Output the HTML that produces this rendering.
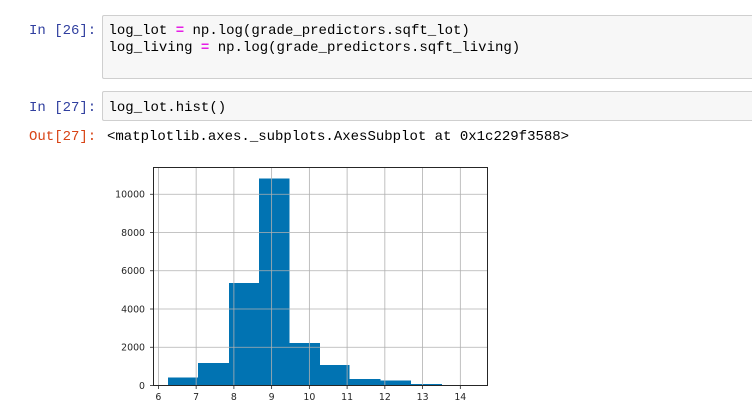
<!DOCTYPE html>
<html lang="en">
<head>
<meta charset="utf-8">
<title>Notebook histogram</title>
<style>
html,body{margin:0;padding:0;background:#fff;width:752px;height:413px;overflow:hidden}
#page{position:relative;width:752px;height:413px;background:#fff}
.cell{position:absolute;left:102px;width:650px;box-sizing:border-box;background:#f7f7f7;border:1px solid #cfcfcf;border-right:none;border-radius:2px 0 0 2px}
.t{position:absolute;font-family:"Liberation Mono",monospace;font-size:14px;line-height:17px;white-space:pre;color:#000;margin:0}
.in{color:#303f9f}
.out{color:#d84315}
.op{color:#e61ee6;font-weight:bold}
svg{position:absolute;left:0;top:0}
svg text{font-family:"DejaVu Sans",sans-serif;font-size:9.4px;fill:#262626}
</style>
</head>
<body>
<div id="page">
  <div class="t in" style="left:29px;top:23px">In [26]:</div>
  <div class="cell" style="top:15px;height:64px"></div>
  <div class="t" style="left:108.5px;top:23px">log_lot <span class="op">=</span> np.log(grade_predictors.sqft_lot)</div>
  <div class="t" style="left:108.5px;top:40px">log_living <span class="op">=</span> np.log(grade_predictors.sqft_living)</div>

  <div class="t in" style="left:29px;top:100px">In [27]:</div>
  <div class="cell" style="top:91px;height:30px"></div>
  <div class="t" style="left:108.5px;top:100px">log_lot.hist()</div>

  <div class="t out" style="left:29px;top:129px">Out[27]:</div>
  <div class="t" style="left:107px;top:129px">&lt;matplotlib.axes._subplots.AxesSubplot at 0x1c229f3588&gt;</div>

  <svg id="chart" width="752" height="413" viewBox="0 0 752 413"></svg>
</div>
<script>
const binEdges = [6.25, 7.05, 7.87, 8.66, 9.48, 10.28, 11.07, 11.89, 12.69, 13.52, 14.3];
const counts = [430, 1165, 5350, 10830, 2210, 1060, 330, 270, 70, 10];
const xTicks = [6, 7, 8, 9, 10, 11, 12, 13, 14];
const yTicks = [0, 2000, 4000, 6000, 8000, 10000];

const plotLeft = 153.5, plotRight = 487.5, plotTop = 167.5, plotBottom = 385.5;
const xMin = 5.87, xMax = 14.72, yMin = 0, yMax = 11400;
const xScale = v => plotLeft + (v - xMin) / (xMax - xMin) * (plotRight - plotLeft);
const yScale = v => plotBottom - (v - yMin) / (yMax - yMin) * (plotBottom - plotTop);

const svg = document.getElementById('chart');
const NS = 'http://www.w3.org/2000/svg';
function mk(tag, attrs, parent) {
  const el = document.createElementNS(NS, tag);
  for (const k in attrs) el.setAttribute(k, attrs[k]);
  (parent || svg).appendChild(el);
  return el;
}

counts.forEach((c, i) => {
  const x0 = xScale(binEdges[i]), x1 = xScale(binEdges[i + 1]), y = yScale(c);
  const bar = mk('rect', {x: x0, y: y, width: x1 - x0, height: plotBottom - y, fill: '#0173b2', 'shape-rendering': 'crispEdges'});
  
  
});

xTicks.forEach(t => {
  const x = xScale(t);
  const grid = mk('line', {x1: x, x2: x, y1: plotTop, y2: plotBottom, stroke: '#b0b0b0', 'stroke-width': 0.8});
  
  
  const tick = mk('line', {x1: x, x2: x, y1: plotBottom, y2: plotBottom + 3.5, stroke: '#262626', 'stroke-width': 0.8});
  
  
  const label = mk('text', {x: x, y: plotBottom + 14.5, 'text-anchor': 'middle'});
  
  
  label.textContent = t;
});

yTicks.forEach(t => {
  const y = yScale(t);
  const grid = mk('line', {x1: plotLeft, x2: plotRight, y1: y, y2: y, stroke: '#b0b0b0', 'stroke-width': 0.8});
  
  
  const tick = mk('line', {x1: plotLeft - 3.5, x2: plotLeft, y1: y, y2: y, stroke: '#262626', 'stroke-width': 0.8});
  
  
  const label = mk('text', {x: plotLeft - 8.5, y: y + 3.4, 'text-anchor': 'end'});
  
  
  label.textContent = t;
});

const frame = mk('rect', {x: plotLeft, y: plotTop, width: plotRight - plotLeft, height: plotBottom - plotTop, fill: 'none', stroke: '#262626', 'stroke-width': 1});


</script>
</body>
</html>
